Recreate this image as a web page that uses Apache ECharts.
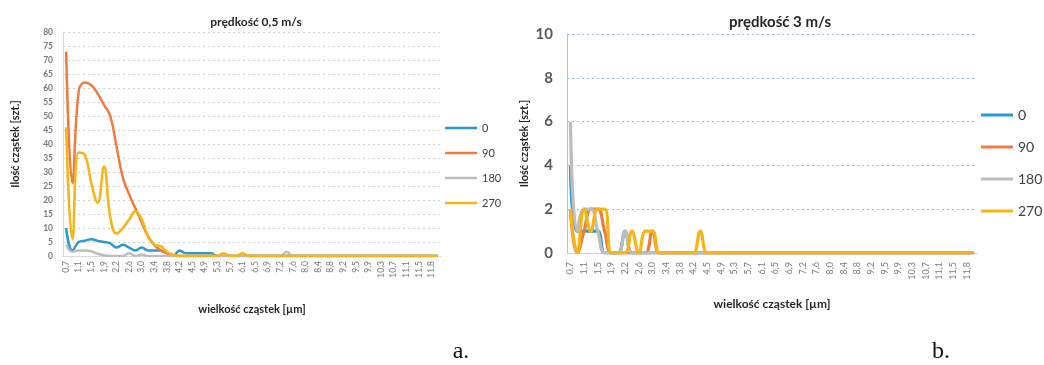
<!DOCTYPE html>
<html>
<head>
<meta charset="utf-8">
<script src="https://cdn.jsdelivr.net/npm/echarts@6/dist/echarts.min.js"></script>
<style>
  html, body { margin: 0; padding: 0; background: #fff; }
  #chart { width: 1044px; height: 365px; }
</style>
</head>
<body>
<div id="chart"></div>
<script>
// Particle size classes [µm]; every second one is labelled on the axis
const sizes = [
  '0,7','0,9','1,1','1,3','1,5','1,7','1,9','2,0','2,2','2,4',
  '2,6','2,8','3,0','3,2','3,4','3,6','3,8','4,0','4,2','4,3',
  '4,5','4,7','4,9','5,1','5,3','5,5','5,7','5,9','6,1','6,3',
  '6,5','6,7','6,9','7,0','7,2','7,4','7,6','7,8','8,0','8,2',
  '8,4','8,6','8,8','9,0','9,2','9,3','9,5','9,7','9,9','10,1',
  '10,3','10,5','10,7','10,9','11,1','11,3','11,5','11,6','11,8','12,0'
];

const seriesNames = ['0', '90', '180', '270'];

// Particle counts at 0,5 m/s for each probe angle
const slow0 = [
  10, 2, 5, 5.5, 6, 5.4, 5, 4.5, 3, 4,
  3, 2, 3, 2, 2, 2, 1, 0, 2, 1,
  1, 1, 1, 1, 0, 0, 0, 0, 0, 0,
  0, 0, 0, 0, 0, 0, 0, 0, 0, 0,
  0, 0, 0, 0, 0, 0, 0, 0, 0, 0,
  0, 0, 0, 0, 0, 0, 0, 0, 0, 0
];
const slow90 = [
  73, 26, 59, 62, 61, 58, 54, 50, 39, 28,
  22, 17, 12, 7, 4, 2, 1, 0, 0, 0,
  0, 0, 0, 0, 0, 0, 0, 0, 0, 0,
  0, 0, 0, 0, 0, 0, 0, 0, 0, 0,
  0, 0, 0, 0, 0, 0, 0, 0, 0, 0,
  0, 0, 0, 0, 0, 0, 0, 0, 0, 0
];
const slow180 = [
  4, 1.5, 2, 2, 1.7, 0.8, 0.3, 0, 0, 0,
  1, 0, 0.5, 0, 0, 0, 0, 0, 0, 0,
  0, 0, 0, 0, 0, 0, 0, 0, 0, 0,
  0, 0, 0, 0, 0, 1.5, 0, 0, 0, 0,
  0, 0, 0, 0, 0, 0, 0, 0, 0, 0,
  0, 0, 0, 0, 0, 0, 0, 0, 0, 0
];
const slow270 = [
  46, 6, 37, 36, 26, 19, 32, 14, 8, 10,
  13, 16, 13, 7, 4, 3.5, 1.5, 0.4, 0, 0,
  0, 0, 0, 0, 0, 1, 0, 0, 1, 0,
  0, 0, 0, 0, 0, 0, 0, 0, 0, 0,
  0, 0, 0, 0, 0, 0, 0, 0, 0, 0,
  0, 0, 0, 0, 0, 0, 0, 0, 0, 0
];

// Particle counts at 3 m/s for each probe angle
const fast0 = [
  4, 1, 1, 1, 1, 0, 0, 0, 1, 0,
  0, 0, 0, 0, 0, 0, 0, 0, 0, 0,
  0, 0, 0, 0, 0, 0, 0, 0, 0, 0,
  0, 0, 0, 0, 0, 0, 0, 0, 0, 0,
  0, 0, 0, 0, 0, 0, 0, 0, 0, 0,
  0, 0, 0, 0, 0, 0, 0, 0, 0, 0
];
const fast90 = [
  2, 0, 1, 2, 2, 1, 0, 0, 0, 0,
  0, 0, 1, 0, 0, 0, 0, 0, 0, 0,
  0, 0, 0, 0, 0, 0, 0, 0, 0, 0,
  0, 0, 0, 0, 0, 0, 0, 0, 0, 0,
  0, 0, 0, 0, 0, 0, 0, 0, 0, 0,
  0, 0, 0, 0, 0, 0, 0, 0, 0, 0
];
const fast180 = [
  6, 1, 2, 2, 1, 0, 0, 0, 1, 0,
  0, 0, 0, 0, 0, 0, 0, 0, 0, 0,
  0, 0, 0, 0, 0, 0, 0, 0, 0, 0,
  0, 0, 0, 0, 0, 0, 0, 0, 0, 0,
  0, 0, 0, 0, 0, 0, 0, 0, 0, 0,
  0, 0, 0, 0, 0, 0, 0, 0, 0, 0
];
const fast270 = [
  2, 0, 2, 1, 2, 2, 0, 0, 0, 1,
  0, 1, 1, 0, 0, 0, 0, 0, 0, 1,
  0, 0, 0, 0, 0, 0, 0, 0, 0, 0,
  0, 0, 0, 0, 0, 0, 0, 0, 0, 0,
  0, 0, 0, 0, 0, 0, 0, 0, 0, 0,
  0, 0, 0, 0, 0, 0, 0, 0, 0, 0
];

const colors = ['#2a9ad0', '#ec7c3f', '#bdbdbd', '#f7b415'];
const uiFont = 'Lato, "Open Sans", sans-serif';

const chart = echarts.init(document.getElementById('chart'), null, { renderer: 'canvas' });

function lineSeries(name, data, idx, width, color) {
  return {
    name: name,
    type: 'line',
    xAxisIndex: idx,
    yAxisIndex: idx,
    data: data,
    smooth: 0.45,
    symbol: 'none',
    lineStyle: { width: width, color: color },
    itemStyle: { color: color }
  };
}

const slowData = [slow0, slow90, slow180, slow270];
const fastData = [fast0, fast90, fast180, fast270];

const series = [];
seriesNames.forEach((n, i) => series.push(lineSeries(n, slowData[i], 0, 2.5, colors[i])));
seriesNames.forEach((n, i) => series.push(lineSeries(n, fastData[i], 1, 3.2, colors[i])));

const option = {
  animation: false,
  backgroundColor: '#ffffff',
  color: colors,
  graphic: [
    { type: 'text', x: 256, y: 22, style: { text: 'prędkość 0,5 m/s', font: 'bold 12px ' + uiFont, fill: '#262626', align: 'center', verticalAlign: 'middle' } },
    { type: 'text', x: 780, y: 22, style: { text: 'prędkość 3 m/s', font: 'bold 15px ' + uiFont, fill: '#262626', align: 'center', verticalAlign: 'middle' } },
    { type: 'text', x: 461, y: 352, style: { text: 'a.', font: '24px "Liberation Serif", serif', fill: '#111', align: 'center', verticalAlign: 'middle' } },
    { type: 'text', x: 941, y: 352, style: { text: 'b.', font: '24px "Liberation Serif", serif', fill: '#111', align: 'center', verticalAlign: 'middle' } }
  ],
  legend: [
    {
      data: seriesNames,
      orient: 'vertical',
      left: 440,
      top: 116,
      icon: 'rect',
      itemWidth: 32,
      itemHeight: 2.5,
      itemGap: 11,
      selectedMode: false,
      textStyle: { fontFamily: uiFont, fontSize: 11, color: '#404040', lineHeight: 14 }
    },
    {
      data: seriesNames,
      orient: 'vertical',
      left: 976,
      top: 101,
      icon: 'rect',
      itemWidth: 32,
      itemHeight: 3,
      itemGap: 14,
      itemTextGap: 4,
      selectedMode: false,
      textStyle: { fontFamily: uiFont, fontSize: 14, color: '#404040', lineHeight: 18 }
    }
  ],
  grid: [
    { left: 63, top: 32, width: 378, height: 224 },
    { left: 567, top: 34, width: 410, height: 219 }
  ],
  xAxis: [
    {
      gridIndex: 0,
      type: 'category',
      data: sizes,
      boundaryGap: true,
      axisTick: { show: false },
      axisLine: { lineStyle: { color: '#d9d9d9', width: 1 } },
      axisLabel: { interval: 1, rotate: 90, fontSize: 8.5, fontFamily: uiFont, color: '#7a7a7a', margin: 5 },
      splitLine: { show: false },
      name: 'wielkość cząstek [µm]',
      nameLocation: 'middle',
      nameGap: 48,
      nameTextStyle: { fontFamily: uiFont, fontWeight: 'bold', fontSize: 11, color: '#262626' }
    },
    {
      gridIndex: 1,
      type: 'category',
      data: sizes,
      boundaryGap: true,
      axisTick: { show: false },
      axisLine: { lineStyle: { color: '#d0d0d0', width: 1 } },
      axisLabel: { interval: 1, rotate: 90, fontSize: 9, fontFamily: uiFont, color: '#7a7a7a', margin: 9 },
      splitLine: { show: false },
      name: 'wielkość cząstek [µm]',
      nameLocation: 'middle',
      nameGap: 45,
      nameTextStyle: { fontFamily: uiFont, fontWeight: 'bold', fontSize: 12, color: '#262626' }
    }
  ],
  yAxis: [
    {
      gridIndex: 0,
      type: 'value',
      min: 0,
      max: 80,
      interval: 5,
      axisLine: { show: true, lineStyle: { color: '#d9d9d9' } },
      axisTick: { show: false },
      axisLabel: { fontSize: 8.5, fontWeight: 'bold', fontFamily: uiFont, color: '#7a7a7a', margin: 10 },
      splitLine: { show: true, lineStyle: { type: [2, 3], color: '#cfcfcf', width: 1 } },
      name: 'Ilość cząstek [szt.]',
      nameLocation: 'middle',
      nameRotate: 90,
      nameGap: 42,
      nameTextStyle: { fontFamily: uiFont, fontWeight: 'bold', fontSize: 11, color: '#262626' }
    },
    {
      gridIndex: 1,
      type: 'value',
      min: 0,
      max: 10,
      interval: 2,
      axisLine: { show: true, lineStyle: { color: '#bfbfbf' } },
      axisTick: { show: false },
      axisLabel: { fontSize: 15, fontWeight: 'bold', fontFamily: uiFont, color: '#595959', margin: 14 },
      splitLine: { show: true, lineStyle: { type: [2, 3], color: '#8fc2de', width: 1.2 } },
      name: 'Ilość cząstek [szt.]',
      nameLocation: 'middle',
      nameRotate: 90,
      nameGap: 37,
      nameTextStyle: { fontFamily: uiFont, fontWeight: 'bold', fontSize: 11, color: '#262626' }
    }
  ],
  series: series
};

chart.setOption(option);
</script>
</body>
</html>
